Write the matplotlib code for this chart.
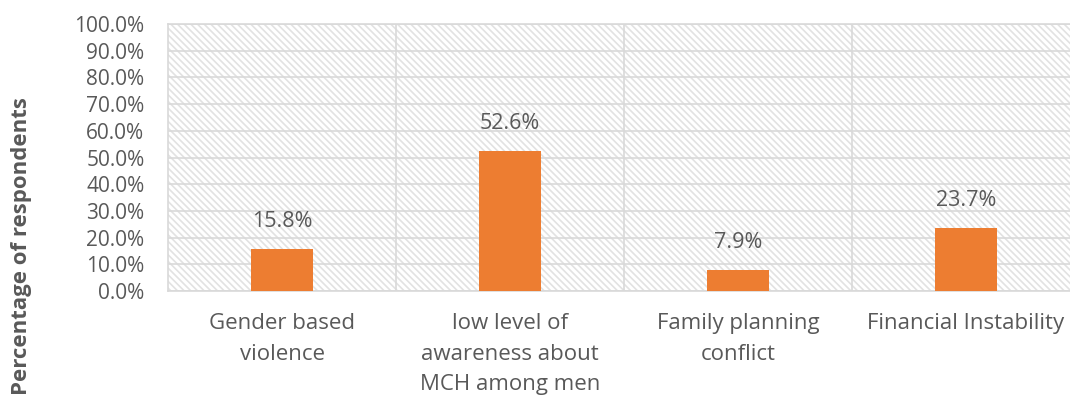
import matplotlib
matplotlib.use("Agg")
import matplotlib.pyplot as plt
from matplotlib.patches import Rectangle

categories = ["Gender based\nviolence", "low level of\nawareness about\nMCH among men",
              "Family planning\nconflict", "Financial Instability"]
values = [15.8, 52.6, 7.9, 23.7]
y_ticks = [0, 10, 20, 30, 40, 50, 60, 70, 80, 90, 100]

TEXT = "#595959"
GRID = "#D9D9D9"
ORANGE = "#ED7D31"

plt.rcParams['font.family'] = ['Open Sans', 'DejaVu Sans']
plt.rcParams['hatch.linewidth'] = 1.2

W, H = 1070, 398
fig = plt.figure(figsize=(W / 100, H / 100), dpi=100)
ax = fig.add_axes([168 / W, (H - 291) / H, (1080 - 168) / W, (291 - 24) / H])

bg = Rectangle((0, 0), 1, 1, transform=ax.transAxes, facecolor="white",
               edgecolor="#E2E2E2", hatch="\\\\\\\\\\", linewidth=0, zorder=0)
ax.add_patch(bg)

x = list(range(len(categories)))
ax.bar(x, values, width=0.27, color=ORANGE, zorder=3)
for xi, v in zip(x, values):
    ax.text(xi, v + 10.2, f"{v:.1f}%", ha="center", va="center", fontsize=15.5, color=TEXT, zorder=4)

ax.set_xlim(-0.5, len(categories) - 0.5)
ax.set_ylim(0, 100)
ax.set_yticks(y_ticks)
ax.set_yticklabels([f"{t:.1f}%" for t in y_ticks])
ax.set_xticks(x)
ax.set_xticklabels(categories, linespacing=1.58)
ax.set_xticks([0.5, 1.5, 2.5], minor=True)
ax.tick_params(axis="both", which="both", length=0, labelcolor=TEXT)
ax.tick_params(axis="x", pad=16, labelsize=16)
ax.tick_params(axis="y", pad=17, labelsize=15)
ax.grid(True, axis="y", which="major", color=GRID, linewidth=1.2, zorder=1)
ax.grid(True, axis="x", which="minor", color=GRID, linewidth=1.2, zorder=1)
ax.grid(False, axis="x", which="major")
ax.set_axisbelow(True)
for s in ax.spines.values():
    s.set_color(GRID)
    s.set_linewidth(1.2)

fig.text(22 / W, 1 - 246 / H, "Percentage of respondents", rotation=90, ha="center", va="center",
         fontsize=16, fontweight="bold", color=TEXT)

fig.savefig("out.png", dpi=100)
